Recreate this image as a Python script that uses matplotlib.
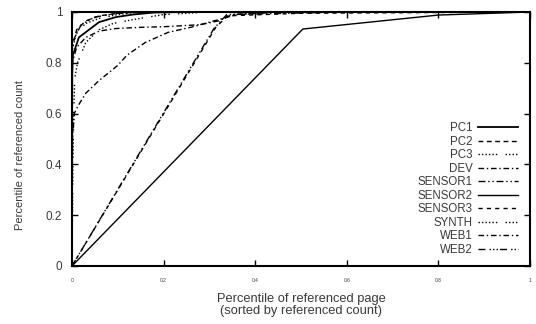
import matplotlib
matplotlib.use("Agg")
import matplotlib.pyplot as plt

# ---- data ----
pc1_x = [0, 0.0005, 0.002, 0.015, 0.037, 0.059, 0.096, 0.133, 0.18, 0.25, 1.0]
pc1_y = [0.0, 0.75, 0.83, 0.90, 0.93, 0.96, 0.98, 0.99, 0.998, 1.0, 1.0]

pc2_x = [0, 0.0005, 0.01, 0.03, 0.06, 0.1, 0.15, 1.0]
pc2_y = [0.0, 0.86, 0.93, 0.965, 0.985, 0.995, 1.0, 1.0]

pc3_x = [0, 0.002, 0.004, 0.006, 0.012, 0.03, 0.059, 0.09, 0.133, 0.2, 0.3, 1.0]
pc3_y = [0.0, 0.40, 0.62, 0.74, 0.80, 0.88, 0.93, 0.955, 0.97, 0.99, 1.0, 1.0]

dev_x = [0, 0.001, 0.005, 0.013, 0.03, 0.059, 0.10, 0.12, 0.16, 0.21, 0.26, 0.30, 0.33, 0.36, 0.45, 1.0]
dev_y = [0.0, 0.50, 0.60, 0.63, 0.68, 0.73, 0.79, 0.83, 0.88, 0.92, 0.94, 0.96, 0.975, 0.99, 1.0, 1.0]

sensor1_x = [0, 0.31, 0.338, 0.6, 1.0]
sensor1_y = [0.0, 0.935, 0.99, 1.0, 1.0]

sensor2_x = [0, 0.504, 0.8, 1.0]
sensor2_y = [0.0, 0.933, 0.988, 1.0]

sensor3_x = [0, 0.314, 0.34, 0.5, 1.0]
sensor3_y = [0.0, 0.94, 0.985, 0.995, 1.0]

synth_x = [0, 0.0005, 0.01, 0.03, 0.06, 0.1, 0.15, 1.0]
synth_y = [0.0, 0.85, 0.92, 0.955, 0.975, 0.99, 1.0, 1.0]

web1_x = [0, 0.0005, 0.01, 0.03, 0.06, 0.096, 0.155, 0.2, 0.28, 0.32, 0.35, 0.45, 1.0]
web1_y = [0.0, 0.80, 0.86, 0.90, 0.925, 0.935, 0.94, 0.942, 0.95, 0.965, 0.99, 1.0, 1.0]

web2_x = [0, 0.0005, 0.02, 0.05, 0.1, 0.2, 1.0]
web2_y = [0.0, 0.88, 0.95, 0.98, 0.995, 1.0, 1.0]

labels = ["PC1", "PC2", "PC3", "DEV", "SENSOR1", "SENSOR2", "SENSOR3", "SYNTH", "WEB1", "WEB2"]
xs = [pc1_x, pc2_x, pc3_x, dev_x, sensor1_x, sensor2_x, sensor3_x, synth_x, web1_x, web2_x]
ys = [pc1_y, pc2_y, pc3_y, dev_y, sensor1_y, sensor2_y, sensor3_y, synth_y, web1_y, web2_y]

xticks = [0, 0.2, 0.4, 0.6, 0.8, 1]
xticklabels = ["0", "0.2", "0.4", "0.6", "0.8", "1"]
yticks = [0, 0.2, 0.4, 0.6, 0.8, 1]
yticklabels = ["0", "0.2", "0.4", "0.6", "0.8", "1"]

# ---- styles ----
styles = [
    dict(ls="-", lw=1.3),
    dict(ls=(0, (3.5, 2.5)), lw=1.0),
    dict(ls=(0, (1, 1.5, 1, 1.5, 1, 1.5, 1, 1.5, 1, 1.5, 1, 6)), lw=1.0),
    dict(ls=(0, (4, 2, 1, 2)), lw=1.0),
    dict(ls=(0, (5, 2, 1, 2, 1, 2)), lw=1.0),
    dict(ls="-", lw=1.0),
    dict(ls=(0, (3, 3)), lw=1.0),
    dict(ls=(0, (1, 1.5, 1, 1.5, 1, 1.5, 1, 1.5, 1, 1.5, 1, 6)), lw=1.0),
    dict(ls=(0, (4, 2, 1, 2)), lw=1.0),
    dict(ls=(0, (5, 3, 1, 1.5, 1, 1.5, 1, 1.5)), lw=1.0),
]

plt.rcParams["font.family"] = ["Liberation Sans", "DejaVu Sans"]
gray = "#3a3a3a"

fig = plt.figure(figsize=(5.36, 3.24), dpi=100)
ax = fig.add_axes([72 / 536, 58 / 324, 458 / 536, 254 / 324])

for x, y, lab, st in zip(xs, ys, labels, styles):
    ax.plot(x, y, color="black", label=lab, **st)

ax.set_xlim(0, 1)
ax.set_ylim(0, 1)
ax.set_xticks(xticks)
ax.set_xticklabels(xticklabels, fontsize=3.5, color=gray)
ax.set_yticks(yticks)
ax.set_yticklabels(yticklabels, fontsize=8.5, color=gray)
ax.tick_params(axis="both", direction="in", top=True, right=True, length=4, width=1)
ax.tick_params(axis="x", pad=9)
ax.tick_params(axis="y", pad=7)
for s in ax.spines.values():
    s.set_linewidth(1.5)

ax.set_xlabel("Percentile of referenced page\n(sorted by referenced count)",
              fontsize=9.3, color=gray, labelpad=7, linespacing=1.0)
ax.set_ylabel("Percentile of referenced count", fontsize=8, color=gray)
ax.yaxis.set_label_coords(-0.103, 0.437)

leg = ax.legend(loc="lower right", bbox_to_anchor=(0.974, 0.04), frameon=False,
                markerfirst=False, fontsize=8.3, labelcolor=gray, handlelength=3.5,
                handletextpad=0.45, labelspacing=0.13, borderpad=0, borderaxespad=0)

fig.savefig("out.png", dpi=100)
